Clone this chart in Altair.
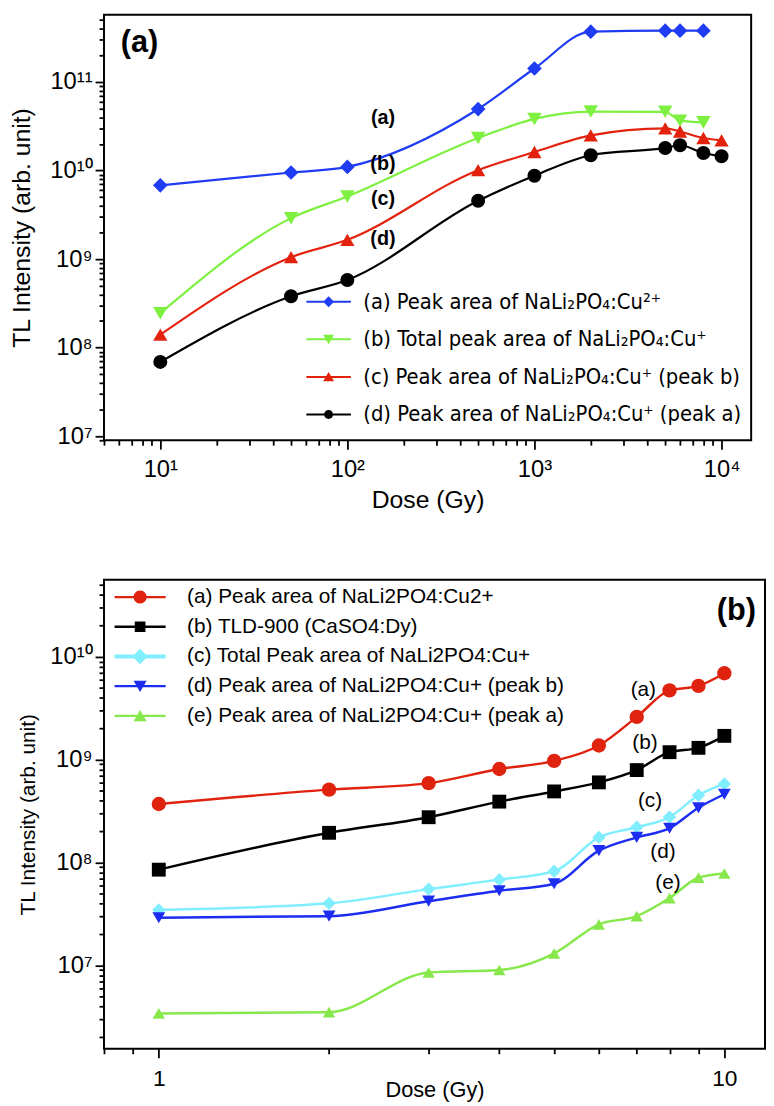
import altair as alt
import pandas as pd

# ---------------- Panel (a) data ----------------
a_names = [
    "(a) Peak area of NaLi₂PO₄:Cu²⁺",
    "(b) Total peak area of NaLi₂PO₄:Cu⁺",
    "(c) Peak area of  NaLi₂PO₄:Cu⁺ (peak b)",
    "(d) Peak area of  NaLi₂PO₄:Cu⁺ (peak a)",
]
a_colors = ["#1f3cf2", "#7ef040", "#e3220e", "#000000"]
a_dose_a = [10, 50, 100, 500, 1000, 2000, 5000, 6000, 8000]
a_val_a = [6.8e9, 9.5e9, 1.1e10, 4.95e10, 1.42e11, 3.7e11, 3.8e11, 3.8e11, 3.8e11]
a_dose_b = [10, 50, 100, 500, 1000, 2000, 5000, 6000, 8000]
a_val_b = [2.45e8, 2.9e9, 5.1e9, 2.33e10, 3.83e10, 4.63e10, 4.6e10, 3.66e10, 3.5e10]
a_dose_c = [10, 50, 100, 500, 1000, 2000, 5000, 6000, 8000, 10000]
a_val_c = [1.4e8, 1.05e9, 1.65e9, 1.01e10, 1.62e10, 2.5e10, 3.0e10, 2.76e10, 2.33e10, 2.19e10]
a_dose_d = [10, 50, 100, 500, 1000, 2000, 5000, 6000, 8000, 10000]
a_val_d = [6.9e7, 3.8e8, 5.8e8, 4.56e9, 8.75e9, 1.49e10, 1.8e10, 1.93e10, 1.58e10, 1.45e10]

a_lab_text = ["(a)", "(b)", "(c)", "(d)"]
a_lab_x = [155, 155, 155, 155]
a_lab_y = [3.95e10, 1.19e10, 4.8e9, 1.67e9]
a_panel_text = ["(a)"]
a_panel_x = [7.75]
a_panel_y = [2.75e11]

# ---------------- Panel (b) data ----------------
b_names = [
    "(a) Peak area of NaLi2PO4:Cu2+",
    "(b) TLD-900 (CaSO4:Dy)",
    "(c) Total Peak area of NaLi2PO4:Cu+",
    "(d) Peak area of NaLi2PO4:Cu+ (peak b)",
    "(e) Peak area of NaLi2PO4:Cu+  (peak a)",
]
b_colors = ["#e0230f", "#000000", "#80eeff", "#1c2cf0", "#86e84a"]
b_dose = [1, 2, 3, 4, 5, 6, 7, 8, 9, 10]
b_val_a = [3.7e8, 5.1e8, 5.9e8, 8.1e8, 9.7e8, 1.37e9, 2.6e9, 4.7e9, 5.2e9, 6.9e9]
b_val_b = [8.5e7, 1.94e8, 2.75e8, 3.9e8, 4.9e8, 6.0e8, 7.9e8, 1.18e9, 1.3e9, 1.7e9]
b_val_c = [3.45e7, 4.0e7, 5.5e7, 6.8e7, 8.2e7, 1.75e8, 2.2e8, 2.76e8, 4.5e8, 5.8e8]
b_val_d = [2.9e7, 3.0e7, 4.2e7, 5.3e7, 6.2e7, 1.3e8, 1.75e8, 2.15e8, 3.4e8, 4.6e8]
b_val_e = [3.4e6, 3.5e6, 8.5e6, 9.0e6, 1.3e7, 2.5e7, 3.0e7, 4.5e7, 7.1e7, 7.8e7]

b_lab_text = ["(a)", "(b)", "(c)", "(d)", "(e)"]
b_lab_x = [7.19, 7.24, 7.39, 7.79, 7.95]
b_lab_y = [4.72e9, 1.44e9, 3.99e8, 1.26e8, 6.27e7]
b_panel_text = ["(b)"]
b_panel_x = [10.5]
b_panel_y = [2.8e10]

# ---------------- helpers ----------------
SUP = str.maketrans("0123456789", "⁰¹²³⁴⁵⁶⁷⁸⁹")
MAJOR = "abs(log(datum.value)/LN10 - round(log(datum.value)/LN10)) < 0.001"


def label_expr(mapping):
    expr = "''"
    for v, lab in reversed(list(mapping.items())):
        expr = f"(datum.value == {v}) ? '{lab}' : ({expr})"
    return expr


def log_ticks(lo, hi):
    vals = []
    d = 1e-3
    while d < 1e13:
        for m in range(1, 10):
            v = float(f"{m * d:.6g}")
            if lo <= v <= hi:
                vals.append(v)
        d *= 10
    return vals


def pow_labels(exps):
    return {float(10 ** e): "10" + str(e).translate(SUP) for e in exps}


def make_axis(values, labels, title, lfont, lsize, tfont, tsize, tpad, lpad):
    return alt.Axis(
        values=values,
        labelExpr=label_expr(labels),
        title=title,
        grid=False,
        domain=False,
        ticks=True,
        tickColor="black",
        tickWidth=1.8,
        tickSize={"condition": {"test": MAJOR, "value": 9}, "value": 5},
        labelFont=lfont,
        labelFontSize={"condition": {"test": MAJOR, "value": lsize}, "value": 0},
        labelColor="black",
        labelPadding=lpad,
        labelOverlap=False,
        labelFlush=False,
        labelBound=False,
        titleFont=tfont,
        titleFontSize=tsize,
        titleFontWeight="normal",
        titleColor="black",
        titlePadding=tpad,
    )


def long_df(names, doses, vals):
    rows = []
    for n, ds, vs in zip(names, doses, vals):
        for d, v in zip(ds, vs):
            rows.append({"series": n, "dose": d, "val": v})
    return pd.DataFrame(rows)


def line_path(half_len, half_th, marker):
    return f"M{-half_len},{-half_th}H{half_len}V{half_th}H{-half_len}Z {marker}"


def panel(df, names, colors, line_widths, marker_shapes, marker_sizes, legend_paths,
          legend_cfg, xscale, yscale, xaxis, yaxis, lab_df, lab_size, lab_weight,
          pan_df, width, height):
    x = alt.X("dose:Q", scale=xscale, axis=xaxis)
    y = alt.Y("val:Q", scale=yscale, axis=yaxis)
    base = alt.Chart(df)
    lines = base.mark_line(interpolate="monotone").encode(
        x=x, y=y,
        color=alt.Color("series:N", scale=alt.Scale(domain=names, range=colors), legend=None),
        strokeWidth=alt.StrokeWidth("series:N", scale=alt.Scale(domain=names, range=line_widths), legend=None),
    )
    points = base.mark_point(filled=True, opacity=1).encode(
        x=x, y=y,
        color=alt.Color("series:N", scale=alt.Scale(domain=names, range=colors), legend=None),
        shape=alt.Shape("series:N", scale=alt.Scale(domain=names, range=marker_shapes), legend=None),
        size=alt.Size("series:N", scale=alt.Scale(domain=names, range=marker_sizes), legend=None),
    )
    leg = alt.Legend(**legend_cfg)
    legend_layer = base.mark_point(filled=True, opacity=1, size=legend_cfg["symbolSize"]).encode(
        x=x, y=y,
        color=alt.Color("series:N", scale=alt.Scale(domain=names, range=colors), legend=leg),
        shape=alt.Shape("series:N", scale=alt.Scale(domain=names, range=legend_paths), legend=leg),
    ).transform_filter("false")
    labels = alt.Chart(lab_df).mark_text(
        font="Liberation Sans", fontSize=lab_size, fontWeight=lab_weight, color="black"
    ).encode(x=x, y=y, text="text:N")
    plabel = alt.Chart(pan_df).mark_text(
        font="Liberation Sans", fontSize=31, fontWeight="bold", color="black"
    ).encode(x=x, y=y, text="text:N")
    return alt.layer(lines, points, legend_layer, labels, plabel).resolve_scale(
        color="independent", shape="independent", size="independent", strokeWidth="independent"
    ).properties(width=width, height=height)


# ---------------- Panel (a) ----------------
df_a = long_df(a_names, [a_dose_a, a_dose_b, a_dose_c, a_dose_d], [a_val_a, a_val_b, a_val_c, a_val_d])
a_xdom = [5, 14400]
a_ydom = [9.0e6, 5.75e11]
a_xaxis = make_axis(log_ticks(*a_xdom), pow_labels(range(1, 5)), "Dose (Gy)",
                    "Liberation Sans", 24, "Liberation Sans", 25, 6, 9)
a_yaxis = make_axis(log_ticks(*a_ydom), pow_labels(range(7, 12)), "TL Intensity (arb. unit)",
                    "Liberation Sans", 24, "Liberation Sans", 25, 16, 3)
a_legend_paths = [
    line_path(4.5, 0.2, "M0,-1.1L1.1,0L0,1.1L-1.1,0Z"),
    line_path(4.5, 0.2, "M-1.1,-0.9L1.1,-0.9L0,1.0Z"),
    line_path(4.5, 0.2, "M0,-1.0L1.1,0.9L-1.1,0.9Z"),
    line_path(4.5, 0.2, "M-0.9,0A0.9,0.9 0 1,1 0.9,0A0.9,0.9 0 1,1 -0.9,0Z"),
]
a_leg_cfg = dict(
    orient="none", legendX=216, legendY=279, title=None, padding=0,
    labelFont="Liberation Sans Narrow, DejaVu Sans Condensed, sans-serif",
    labelFontSize=22, labelColor="black", labelLimit=0, labelOffset=24,
    symbolSize=100, symbolStrokeWidth=0, rowPadding=16, symbolOpacity=1,
)
lab_a = pd.DataFrame({"text": a_lab_text, "dose": a_lab_x, "val": a_lab_y})
pan_a = pd.DataFrame({"text": a_panel_text, "dose": a_panel_x, "val": a_panel_y})
chart_a = panel(
    df_a, a_names, a_colors, [2.2, 2.2, 2.2, 2.2],
    ["diamond", "triangle-down", "triangle-up", "circle"], [220, 200, 200, 150],
    a_legend_paths, a_leg_cfg,
    alt.Scale(type="log", domain=a_xdom, nice=False),
    alt.Scale(type="log", domain=a_ydom, nice=False),
    a_xaxis, a_yaxis, lab_a, 20, "bold", pan_a, 654, 430,
)

# ---------------- Panel (b) ----------------
df_b = long_df(b_names, [b_dose] * 5, [b_val_a, b_val_b, b_val_c, b_val_d, b_val_e])
b_xdom = [0.8, 11.8]
b_ydom = [1.54e6, 5.6e10]
b_xaxis = make_axis(log_ticks(*b_xdom), {1.0: "1", 10.0: "10"}, "Dose (Gy)",
                    "Liberation Sans", 23, "Liberation Sans Narrow, Liberation Sans", 22, -11, 10)
b_yaxis = make_axis(log_ticks(*b_ydom), pow_labels(range(7, 11)), "TL Intensity (arb. unit)",
                    "Liberation Sans", 24, "Liberation Sans", 21, 12, 3)
b_legend_paths = [
    line_path(4.3, 0.2, "M-1.1,0A1.1,1.1 0 1,1 1.1,0A1.1,1.1 0 1,1 -1.1,0Z"),
    line_path(4.3, 0.2, "M-0.9,-0.9H0.9V0.9H-0.9Z"),
    line_path(4.3, 0.33, "M0,-1.3L1.3,0L0,1.3L-1.3,0Z"),
    line_path(4.3, 0.2, "M-1.1,-0.9L1.1,-0.9L0,1.0Z"),
    line_path(4.3, 0.2, "M0,-1.0L1.1,0.9L-1.1,0.9Z"),
]
b_leg_cfg = dict(
    orient="none", legendX=26, legendY=7, title=None, padding=0,
    labelFont="Liberation Sans", labelFontSize=21, labelColor="black", labelLimit=0,
    labelOffset=37, symbolSize=144, symbolStrokeWidth=0, rowPadding=8, symbolOpacity=1,
)
lab_b = pd.DataFrame({"text": b_lab_text, "dose": b_lab_x, "val": b_lab_y})
pan_b = pd.DataFrame({"text": b_panel_text, "dose": b_panel_x, "val": b_panel_y})
chart_b = panel(
    df_b, b_names, b_colors, [2.5, 2.5, 4, 2.5, 2.5],
    ["circle", "square", "diamond", "triangle-down", "triangle-up"], [210, 155, 270, 230, 230],
    b_legend_paths, b_leg_cfg,
    alt.Scale(type="log", domain=b_xdom, nice=False),
    alt.Scale(type="log", domain=b_ydom, nice=False),
    b_xaxis, b_yaxis, lab_b, 21, "normal", pan_b, 668, 474,
)

chart = alt.concat(chart_a, chart_b, columns=1, spacing=66, align="none").properties(
    padding={"left": 0, "top": 0, "right": 0, "bottom": 0}
).configure_view(stroke="black", strokeWidth=2)

chart.save("out.html", embed_options={"renderer": "svg", "actions": False})
